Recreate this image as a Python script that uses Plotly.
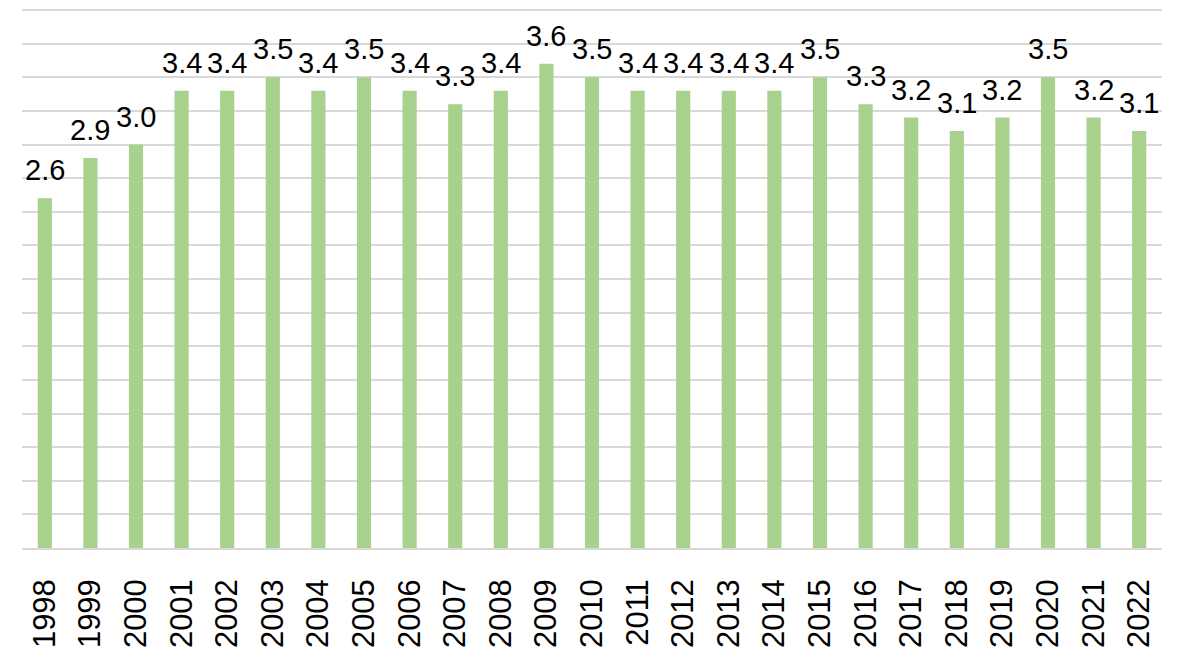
import plotly.graph_objects as go

years = [str(y) for y in range(1998, 2023)]
values = [2.6, 2.9, 3.0, 3.4, 3.4, 3.5, 3.4, 3.5, 3.4, 3.3, 3.4, 3.6, 3.5,
          3.4, 3.4, 3.4, 3.4, 3.5, 3.3, 3.2, 3.1, 3.2, 3.5, 3.2, 3.1]
labels = [f"{v:.1f}" for v in values]

FONT = "Liberation Sans, Arial"

fig = go.Figure(go.Bar(
    x=years, y=values,
    marker=dict(color="#A9D18E", line=dict(width=0)),
    hoverinfo="x+y",
))

# category index positions for the value labels
for i, (v, lab) in enumerate(zip(values, labels)):
    fig.add_annotation(
        x=i, y=v, text=lab, showarrow=False, yanchor="bottom", xanchor="center",
        yshift=10, font=dict(family=FONT, size=29, color="#000000"),
    )

fig.update_layout(
    width=1178, height=649,
    margin=dict(l=14, r=24, t=0, b=109),
    plot_bgcolor="white", paper_bgcolor="white",
    bargap=0.69,
    showlegend=False,
    font=dict(family=FONT, color="#000000"),
)
fig.update_xaxes(
    type="category", range=[-0.5, len(years) - 0.5], autorange=False,
    tickangle=-90, tickfont=dict(size=31, color="#000000"),
    showgrid=False, showline=True, linecolor="#D9D9D9", linewidth=1.5,
    ticks="", ticklabelstandoff=17,
)
fig.update_yaxes(
    range=[0, 4.015], tickvals=[i * 0.25 for i in range(1, 17)], showticklabels=False,
    showgrid=True, gridcolor="#D9D9D9", gridwidth=1.5, zeroline=False,
)

fig.write_html("out.html")
